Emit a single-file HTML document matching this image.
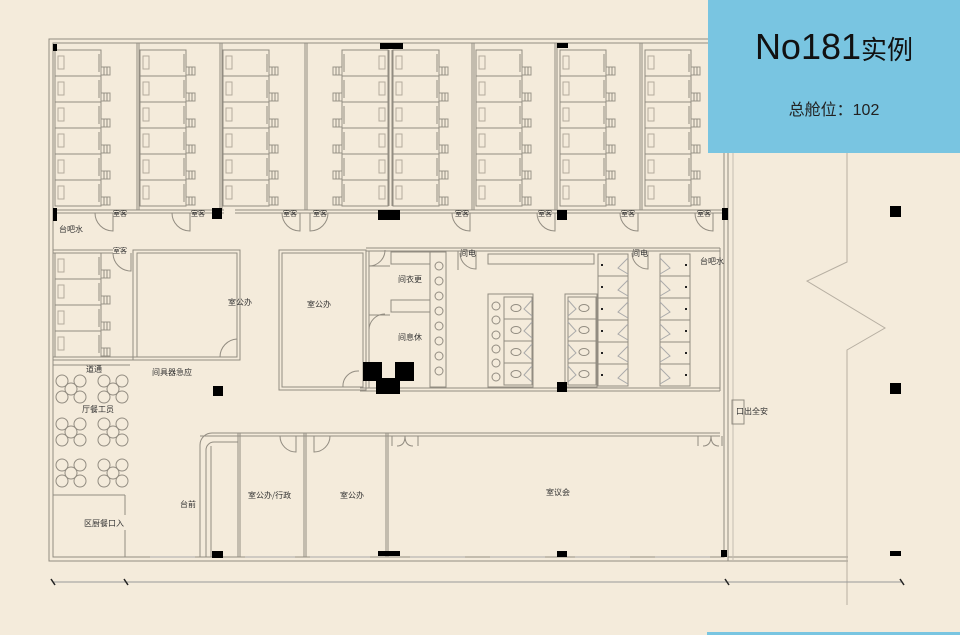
<!DOCTYPE html>
<html><head><meta charset="utf-8"><style>
html,body{margin:0;padding:0;background:#f4ebdb;}
#w{position:relative;width:960px;height:635px;overflow:hidden;background:#f4ebdb;font-family:"Liberation Sans","Noto Sans CJK SC",sans-serif;}
svg{position:absolute;left:0;top:0}
.t{font-size:8px;fill:#333;font-family:"Noto Sans CJK SC",sans-serif}
#box{position:absolute;left:708px;top:0;width:252px;height:153px;background:#79c5e1;text-align:center;color:#111}
#box .a{position:absolute;top:25px;left:0;width:252px;font-size:36px;line-height:44px}
#box .a span{font-size:26px;font-family:"Noto Sans CJK SC",sans-serif}
#box .b{position:absolute;top:96px;left:0;width:252px;font-size:16px;font-family:"Liberation Sans","Noto Sans CJK SC",sans-serif;color:#222}
#bl{position:absolute;left:707px;top:632px;width:253px;height:3px;background:#79c5e1}
</style></head><body><div id="w">
<svg width="960" height="635" viewBox="0 0 960 635">
<defs>
<g id="u" fill="none" stroke="#928c81" stroke-width="1">
<rect x="0" y="0" width="46" height="26"/>
<rect x="3" y="6" width="6" height="13" stroke="#b3ab9c"/>
<line x1="44" y1="4" x2="44" y2="22"/>
<rect x="46" y="17" width="9" height="8" stroke="#9a9488"/>
<line x1="49" y1="17" x2="49" y2="25"/><line x1="52" y1="17" x2="52" y2="25"/>
</g>
<g id="col"><use href="#u" y="0"/><use href="#u" y="26"/><use href="#u" y="52"/><use href="#u" y="78"/><use href="#u" y="104"/><use href="#u" y="130"/></g>
<g id="sh" fill="none" stroke="#928c81"><rect x="0" y="0" width="30" height="22"/><polyline points="30,4 20,14 30,20" stroke="#aaa"/><line x1="3" y1="11" x2="5" y2="11" stroke="#222" stroke-width="2"/></g>
<g id="wc" fill="none" stroke="#928c81"><rect x="0" y="0" width="28" height="22"/><ellipse cx="12" cy="11" rx="5" ry="3.5"/><polyline points="28,3 20,12 28,19" stroke="#aaa"/></g>
<g id="tab" fill="none" stroke="#928c81"><circle cx="0" cy="0" r="6"/><circle cx="-9" cy="-8" r="6"/><circle cx="9" cy="-8" r="6"/><circle cx="-9" cy="8" r="6"/><circle cx="9" cy="8" r="6"/></g>
</defs>
<g fill="none" stroke="#928c81" stroke-width="1">
<rect x="49" y="39" width="679" height="522"/>
<rect x="53" y="43" width="671" height="514"/>
<line x1="728" y1="561" x2="848" y2="561"/><line x1="728" y1="557" x2="848" y2="557"/>
<line x1="733" y1="153" x2="733" y2="561" stroke="#c5bdb0"/>
<polyline points="847,153 847,262 807,281 885,328 847,350 847,605" stroke="#b7afa2"/>
<line x1="53" y1="582" x2="902" y2="582" stroke="#999"/>
<line x1="113" y1="210" x2="224" y2="210" stroke="none"/>
<line x1="53" y1="210" x2="224" y2="210"/><line x1="53" y1="213" x2="224" y2="213"/>
<line x1="235" y1="210" x2="723" y2="210"/><line x1="235" y1="213" x2="723" y2="213"/>
<line x1="137" y1="43" x2="137" y2="210"/><line x1="139" y1="43" x2="139" y2="210"/>
<line x1="220" y1="43" x2="220" y2="210"/><line x1="222" y1="43" x2="222" y2="210"/>
<line x1="305" y1="43" x2="305" y2="210"/><line x1="307" y1="43" x2="307" y2="210"/>
<line x1="472" y1="43" x2="472" y2="210"/><line x1="474" y1="43" x2="474" y2="210"/>
<line x1="555" y1="43" x2="555" y2="210"/><line x1="557" y1="43" x2="557" y2="210"/>
<line x1="640" y1="43" x2="640" y2="210"/><line x1="642" y1="43" x2="642" y2="210"/>
<line x1="389" y1="50" x2="389" y2="206"/><line x1="392" y1="50" x2="392" y2="206"/>
<path d="M113 213 v18 a18 18 0 0 1 -18 -18" /><path d="M190 213 v18 a18 18 0 0 1 -18 -18"/>
<path d="M300 213 v18 a18 18 0 0 1 -18 -18"/><path d="M310 213 v18 a18 18 0 0 0 18 -18"/>
<path d="M470 213 v18 a18 18 0 0 1 -18 -18"/><path d="M555 213 v18 a18 18 0 0 1 -18 -18"/>
<path d="M638 213 v18 a18 18 0 0 1 -18 -18"/><path d="M713 213 v18 a18 18 0 0 1 -18 -18"/>
<line x1="53" y1="250" x2="113" y2="250"/><line x1="53" y1="253" x2="113" y2="253"/>
<path d="M131 253 v18 a18 18 0 0 1 -18 -18"/>
<line x1="53" y1="357" x2="215" y2="357"/><line x1="53" y1="360" x2="215" y2="360"/>
<rect x="133" y="250" width="107" height="110"/><rect x="137" y="253" width="100" height="104"/>
<path d="M220 357 a18 18 0 0 1 17 -18"/>
<rect x="279" y="250" width="87" height="140"/><rect x="282" y="253" width="81" height="134"/>
<path d="M343 387 a15 15 0 0 1 16 -16"/>
<line x1="366" y1="248" x2="720" y2="248"/><line x1="366" y1="251" x2="720" y2="251"/>
<line x1="360" y1="388" x2="720" y2="388"/><line x1="360" y1="391" x2="720" y2="391"/>
<line x1="366" y1="251" x2="366" y2="388"/><line x1="369" y1="251" x2="369" y2="388"/>
<rect x="391" y="252" width="39" height="12"/><rect x="391" y="300" width="39" height="12"/>
<line x1="369" y1="315" x2="390" y2="315"/><line x1="369" y1="266" x2="390" y2="266"/>
<path d="M369 266 a16 16 0 0 0 16 -16"/><path d="M369 330 a16 16 0 0 1 16 -16"/>
<rect x="430" y="252" width="16" height="135"/>
<circle cx="439" cy="266" r="4"/><circle cx="439" cy="281" r="4"/><circle cx="439" cy="296" r="4"/><circle cx="439" cy="311" r="4"/><circle cx="439" cy="326" r="4"/><circle cx="439" cy="341" r="4"/><circle cx="439" cy="356" r="4"/><circle cx="439" cy="371" r="4"/>
<line x1="458" y1="251" x2="458" y2="270"/><path d="M476 251 v18 a16 16 0 0 1 -16 -16"/>
<rect x="488" y="254" width="106" height="10"/>
<rect x="488" y="294" width="45" height="93"/><rect x="565" y="294" width="32" height="93"/>
<circle cx="496" cy="306" r="4"/><circle cx="496" cy="320" r="4"/><circle cx="496" cy="335" r="4"/><circle cx="496" cy="349" r="4"/><circle cx="496" cy="363" r="4"/><circle cx="496" cy="377" r="4"/>
<path d="M648 251 v18 a16 16 0 0 1 -16 -16"/>
<line x1="720" y1="248" x2="720" y2="391"/>
<line x1="53" y1="365" x2="130" y2="365"/>
<line x1="53" y1="495" x2="125" y2="495"/><line x1="125" y1="495" x2="125" y2="515"/><line x1="125" y1="530" x2="125" y2="557"/>
<path d="M200 557 V445 a12 12 0 0 1 12 -12 H720"/><path d="M206 557 V450 a8 8 0 0 1 8 -8 H238"/>
<line x1="211" y1="446" x2="211" y2="557"/>
<line x1="238" y1="433" x2="238" y2="557"/><line x1="240" y1="433" x2="240" y2="557"/>
<line x1="304" y1="433" x2="304" y2="557"/><line x1="306" y1="433" x2="306" y2="557"/>
<line x1="386" y1="433" x2="386" y2="557"/><line x1="388" y1="433" x2="388" y2="557"/>
<line x1="200" y1="436" x2="720" y2="436"/>
<path d="M280 436 a16 16 0 0 0 16 16 v-16"/><path d="M330 436 a16 16 0 0 1 -16 16 v-16"/>
<path d="M392 436 v10 M405 436 q0 10 -8 10 M405 436 q0 10 8 10 M418 436 v10"/>
<path d="M698 436 v10 M711 436 q0 10 -8 10 M711 436 q0 10 8 10 M722 436 v10"/>
<rect x="732" y="400" width="12" height="24"/>
</g>
<g stroke="#aaa" fill="none"><line x1="150" y1="557" x2="195" y2="557"/><line x1="245" y1="557" x2="295" y2="557"/><line x1="310" y1="557" x2="370" y2="557"/><line x1="410" y1="557" x2="465" y2="557"/><line x1="490" y1="557" x2="545" y2="557"/><line x1="575" y1="557" x2="630" y2="557"/><line x1="655" y1="557" x2="710" y2="557"/></g>
<g stroke="#222" stroke-width="1.5"><line x1="51" y1="579" x2="55" y2="585"/><line x1="124" y1="579" x2="128" y2="585"/><line x1="725" y1="579" x2="729" y2="585"/><line x1="900" y1="579" x2="904" y2="585"/></g>
<use href="#col" x="55" y="50"/><use href="#col" x="140" y="50"/><use href="#col" x="223" y="50"/>
<use href="#col" transform="translate(388,50) scale(-1,1)"/><use href="#col" x="393" y="50"/>
<use href="#col" x="476" y="50"/><use href="#col" x="560" y="50"/><use href="#col" x="645" y="50"/>
<use href="#u" x="55" y="253"/><use href="#u" x="55" y="279"/><use href="#u" x="55" y="305"/><use href="#u" x="55" y="331"/>
<use href="#sh" x="598" y="254"/><use href="#sh" x="598" y="276"/><use href="#sh" x="598" y="298"/><use href="#sh" x="598" y="320"/><use href="#sh" x="598" y="342"/><use href="#sh" x="598" y="364"/>
<use href="#sh" transform="translate(690,254) scale(-1,1)"/><use href="#sh" transform="translate(690,276) scale(-1,1)"/><use href="#sh" transform="translate(690,298) scale(-1,1)"/><use href="#sh" transform="translate(690,320) scale(-1,1)"/><use href="#sh" transform="translate(690,342) scale(-1,1)"/><use href="#sh" transform="translate(690,364) scale(-1,1)"/>
<use href="#wc" x="504" y="297"/><use href="#wc" x="504" y="319"/><use href="#wc" x="504" y="341"/><use href="#wc" x="504" y="363"/>
<use href="#wc" transform="translate(596,297) scale(-1,1)"/><use href="#wc" transform="translate(596,319) scale(-1,1)"/><use href="#wc" transform="translate(596,341) scale(-1,1)"/><use href="#wc" transform="translate(596,363) scale(-1,1)"/>
<use href="#tab" x="71" y="389"/><use href="#tab" x="113" y="389"/><use href="#tab" x="71" y="432"/><use href="#tab" x="113" y="432"/><use href="#tab" x="71" y="473"/><use href="#tab" x="113" y="473"/>
<g fill="#000">
<rect x="53" y="44" width="4" height="7"/><rect x="380" y="43" width="23" height="6"/><rect x="557" y="43" width="11" height="5"/>
<rect x="53" y="208" width="4" height="13"/><rect x="212" y="208" width="10" height="11"/><rect x="378" y="210" width="22" height="10"/><rect x="557" y="210" width="10" height="10"/><rect x="722" y="208" width="6" height="12"/>
<rect x="213" y="386" width="10" height="10"/><rect x="557" y="382" width="10" height="10"/>
<rect x="363" y="362" width="19" height="19"/><rect x="395" y="362" width="19" height="19"/><rect x="376" y="378" width="24" height="16"/>
<rect x="212" y="551" width="11" height="7"/><rect x="378" y="551" width="22" height="5"/><rect x="557" y="551" width="10" height="6"/><rect x="721" y="550" width="6" height="7"/>
<rect x="890" y="206" width="11" height="11"/><rect x="890" y="383" width="11" height="11"/><rect x="890" y="551" width="11" height="5"/>
</g>
<g class="t">
<text x="228" y="305">室公办</text><text x="307" y="307">室公办</text><text x="546" y="495">室议会</text>
<text x="398" y="282">间衣更</text><text x="398" y="340">间息休</text><text x="248" y="498">室公办/行政</text><text x="340" y="498">室公办</text>
<text x="82" y="412">厅餐工员</text><text x="84" y="526">区厨餐口入</text><text x="736" y="414">口出全安</text>
<text x="152" y="375">间具器急应</text><text x="86" y="372">道通</text><text x="59" y="232">台吧水</text><text x="700" y="264">台吧水</text>
<text x="460" y="256">间电</text><text x="632" y="256">间电</text><text x="180" y="507">台前</text>
<g font-size="7"><text x="113" y="216">室客</text><text x="191" y="216">室客</text><text x="283" y="216">室客</text><text x="313" y="216">室客</text><text x="455" y="216">室客</text><text x="538" y="216">室客</text><text x="621" y="216">室客</text><text x="697" y="216">室客</text><text x="113" y="253">室客</text></g>
</g>
</svg>
<div id="box"><div class="a">No181<span>实例</span></div><div class="b">总舱位：102</div></div>
<div id="bl"></div>
</div></body></html>
